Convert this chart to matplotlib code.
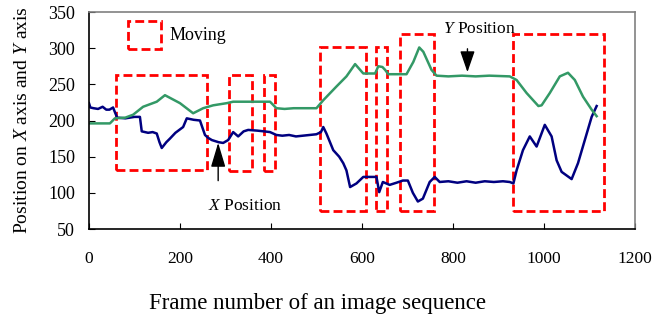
import matplotlib.pyplot as plt
from matplotlib.patches import Rectangle, Patch

plt.rcParams["font.family"] = ["Liberation Serif", "DejaVu Serif"]
plt.rcParams["mathtext.fontset"] = "custom"
plt.rcParams["mathtext.rm"] = "Liberation Serif"
plt.rcParams["mathtext.it"] = "Liberation Serif:italic"

# X position (blue)
x_frames = [0, 3, 10, 20, 30, 38, 45, 53, 58, 62, 80, 90, 100, 112, 116, 130, 140,
            149, 155, 160, 170, 178, 190, 207, 215, 230, 244, 255, 262, 270, 285,
            295, 306, 317, 328, 340, 350, 370, 385, 398, 412, 425, 440, 455, 470,
            485, 500, 510, 515, 522, 537, 550, 559, 566, 574, 588, 603, 618, 632,
            638, 646, 661, 676, 690, 701, 712, 723, 734, 749, 760, 771, 790, 810,
            830, 850, 870, 890, 910, 925, 933, 940, 954, 969, 984, 1002, 1017,
            1028, 1039, 1050, 1061, 1075, 1090, 1105, 1116]
x_pos = [224, 218, 217, 216, 219, 215, 215, 218, 210, 204, 203, 204, 205, 205, 185,
         183, 184, 182, 170, 162, 170, 175, 183, 191, 203, 201, 200, 180, 176, 173,
         170, 169, 173, 184, 178, 185, 187, 186, 185, 184, 180, 179, 180, 178, 179,
         180, 181, 184, 191, 182, 159, 150, 141, 131, 108, 113, 122, 122, 122,
         101, 115, 111, 114, 117, 117, 100, 88, 92, 115, 122, 115, 116, 114, 116,
         114, 116, 115, 116, 115, 113, 131, 159, 178, 164, 194, 178, 145, 129, 124,
         119, 141, 173, 205, 220]

# Y position (green)
y_frames = [0, 46, 57, 80, 97, 119, 149, 167, 200, 229, 251, 273, 303, 317, 350,
            398, 412, 430, 450, 475, 500, 515, 544, 566, 585, 603, 629, 636, 645,
            651, 658, 698, 713, 726, 735, 753, 764, 790, 820, 850, 880, 925, 940,
            962, 988, 995, 1013, 1035, 1053, 1068, 1086, 1105, 1116]
y_pos = [196, 196, 203, 204, 208, 219, 226, 235, 224, 210, 217, 221, 224, 226, 226,
         226, 217, 216, 217, 217, 217, 228, 247, 261, 278, 265, 265, 275, 274,
         270, 264, 264, 281, 301, 295, 270, 262, 261, 262, 261, 262, 261, 256,
         238, 220, 221, 238, 261, 266, 256, 233, 215, 206]

# moving intervals: (start frame, end frame, low value, high value)
box_start = [59, 308, 384, 508, 631, 683, 933]
box_end = [259, 359, 408, 609, 656, 758, 1133]
box_low = [131, 130, 130, 75, 75, 75, 75]
box_high = [263, 263, 263, 301, 301, 320, 320]

red_dash = (0, (3.2, 1.5))

fig = plt.figure(figsize=(6.62, 3.22), dpi=100)
ax = fig.add_axes([0.1344, 0.2888, 0.8246, 0.6739])

ax.plot(x_frames, x_pos, color="#000080", lw=1.8)
ax.plot(y_frames, y_pos, color="#339966", lw=1.8)

for s, e, lo, hi in zip(box_start, box_end, box_low, box_high):
    ax.add_patch(Rectangle((s, lo), e - s, hi - lo, fill=False, edgecolor="#ff0000",
                           lw=2.0, linestyle=red_dash))

ax.annotate("", xy=(284, 173), xytext=(284, 113),
            arrowprops=dict(arrowstyle="-|>,head_width=0.45,head_length=1.5",
                            color="black", lw=1))
ax.text(343, 82, "$\\mathit{X}$ Position", ha="center", va="center", fontsize=12.5)
ax.annotate("", xy=(832, 263), xytext=(832, 303),
            arrowprops=dict(arrowstyle="-|>,head_width=0.45,head_length=1.3",
                            color="black", lw=1))
ax.text(859, 327, "$\\mathit{Y}$ Position", ha="center", va="center", fontsize=12.5)

ax.legend(handles=[Patch(facecolor="none", edgecolor="#ff0000", lw=2.0,
                         linestyle=red_dash)],
          labels=["Moving"], loc="upper left", bbox_to_anchor=(0.0416, 1.035),
          frameon=False, fontsize=13, handlelength=1.85, handleheight=2.0,
          handletextpad=0.45)

ax.set_xlim(0, 1200)
ax.set_ylim(50, 350)
ax.set_xticks(range(0, 1201, 200))
ax.set_yticks(range(50, 351, 50))
ax.tick_params(axis="x", direction="in", length=4, pad=16, labelsize=12.5)
ax.tick_params(axis="y", direction="in", length=4, pad=10, labelsize=13)
ax.spines["top"].set_color("#808080")
ax.spines["right"].set_color("#808080")
for sp in ax.spines.values():
    sp.set_linewidth(1.2)

ax.set_xlabel("Frame number of an image sequence", fontsize=16.5)
ax.xaxis.set_label_coords(0.418, -0.295)
ax.set_ylabel("Position on $\\mathit{X}$ axis and $\\mathit{Y}$ axis", fontsize=14,
              labelpad=12)

fig.savefig("out.png", dpi=100)
